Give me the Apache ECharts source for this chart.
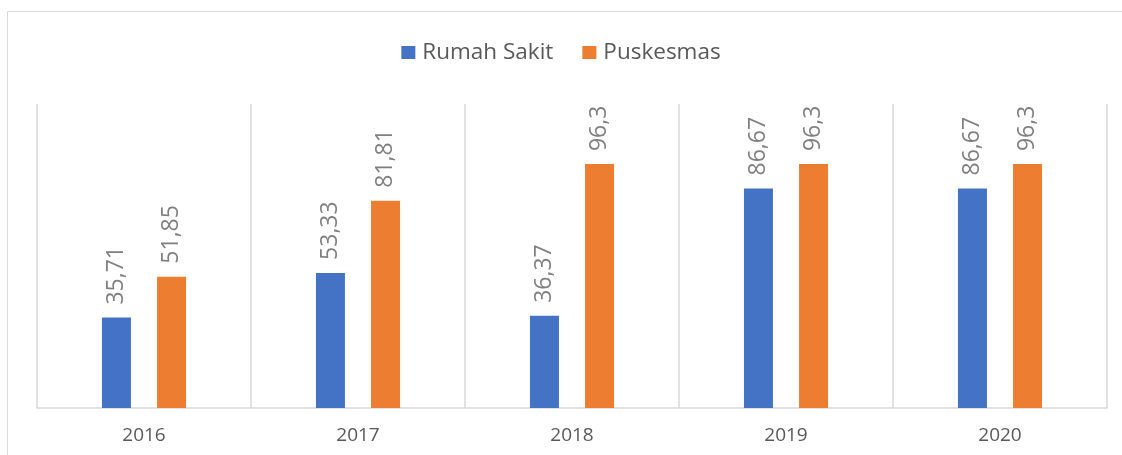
<!DOCTYPE html>
<html>
<head>
<meta charset="utf-8">
<script src="https://cdn.jsdelivr.net/npm/echarts@6/dist/echarts.min.js"></script>
<style>
html,body{margin:0;padding:0;background:#fff;}
#chart{width:1122px;height:455px;}
</style>
</head>
<body>
<div id="chart"></div>
<script>
//数据
var years = ['2016', '2017', '2018', '2019', '2020'];
var rumahSakit = [35.71, 53.33, 36.37, 86.67, 86.67];
var puskesmas = [51.85, 81.81, 96.3, 96.3, 96.3];

var chart = echarts.init(document.getElementById('chart'));

//数值标签 用逗号
function fmt(p) {
    return String(p.value).replace('.', ',');
}

var labelStyle = {
    show: true,
    position: 'top',
    rotate: 90,
    align: 'left',
    verticalAlign: 'middle',
    distance: 13,
    color: '#808080',
    fontSize: 23,
    fontFamily: 'Open Sans',
    formatter: fmt
};

var option = {
    animation: false,
    graphic: [{
        type: 'rect',
        shape: {x: 7.5, y: 11.5, width: 1200, height: 500},
        style: {fill: 'none', stroke: '#d9d9d9', lineWidth: 1}
    }],
    legend: {
        top: 36,
        left: 'center',
        itemWidth: 14,
        itemHeight: 13,
        itemGap: 29,
        icon: 'rect',
        textStyle: {color: '#595959', fontSize: 22.5, fontFamily: 'Open Sans', padding: [0, 0, 0, 2]},
        data: ['Rumah Sakit', 'Puskesmas']
    },
    grid: {left: 37, right: 15, top: 104, bottom: 47},
    xAxis: {
        type: 'category',
        data: years,
        axisLine: {lineStyle: {color: '#d9d9d9', width: 1.5}},
        axisTick: {show: false},
        splitLine: {show: true, lineStyle: {color: '#d9d9d9', width: 1.5}},
        axisLabel: {color: '#595959', fontSize: 19, fontFamily: 'Open Sans', margin: 18}
    },
    yAxis: {
        type: 'value',
        min: 0,
        max: 120,
        show: false
    },
    series: [{
        name: 'Rumah Sakit',
        type: 'bar',
        data: rumahSakit,
        barWidth: 29,
        barGap: '90%',
        itemStyle: {color: '#4472c4'},
        label: labelStyle
    }, {
        name: 'Puskesmas',
        type: 'bar',
        data: puskesmas,
        barWidth: 29,
        itemStyle: {color: '#ed7d31'},
        label: labelStyle
    }]
};

chart.setOption(option);
</script>
</body>
</html>
